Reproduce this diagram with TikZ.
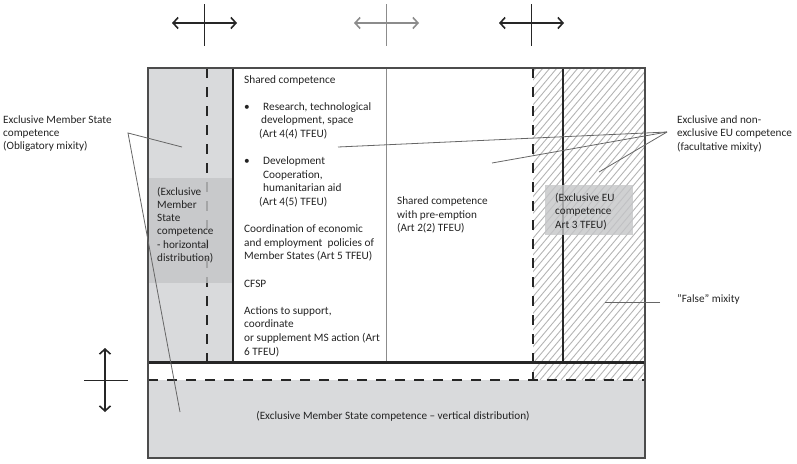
\documentclass[tikz,border=0pt]{standalone}
\usepackage{fontspec}
\setmainfont{Carlito}
\usetikzlibrary{arrows.meta}
\definecolor{colgrey}{RGB}{217,218,220}
\definecolor{boxgrey}{RGB}{196,197,199}
\definecolor{inkgrey}{RGB}{35,35,35}
\definecolor{hatchgrey}{RGB}{180,180,180}

\begin{document}
\begin{tikzpicture}[x=1pt,y=-1pt,
  txt/.style={font=\fontsize{11.2}{13.3}\selectfont,text=inkgrey,inner sep=0pt,align=left},
  heavy/.style={line width=2.6pt,draw=black!85},
  dashline/.style={line width=2.4pt,draw=black!85,dash pattern=on 10pt off 9pt},
  pointer/.style={line width=0.8pt,draw=black!60},
  hatch/.style={line width=0.9pt,draw=hatchgrey},
  shade/.style={fill=boxgrey,fill opacity=0.8,inner sep=0pt,anchor=north west},
  twoway/.style={{Straight Barb[length=5pt,width=11pt]}-{Straight Barb[length=5pt,width=11pt]},line width=1.6pt}]
\useasboundingbox (0,0) rectangle (797,463);

% frame corners
\coordinate (NW) at (148,68);
\coordinate (SE) at (645,458);

% grey and hatched regions
\fill[colgrey] (148,68) rectangle (233,362);
\fill[colgrey] (148,380) rectangle (645,458);
\begin{scope}
  \clip (533,68) rectangle (645,380);
  \foreach \x in {260,267,...,650}
    \draw[hatch] (\x,380) -- ++(262,-312);
\end{scope}

% column and row borders
\draw[line width=1pt,draw=black!45] (386,68) -- (386,362);
\draw[heavy] (233,68) -- (233,362);
\draw[heavy] (563,68) -- (563,362);
\draw[heavy,line width=3pt] (148,362) -- (645,362);
\draw[dashline] (207,68) -- (207,362);
\draw[dashline] (533,68) -- (533,380);
\draw[dashline] (148,380) -- (645,380);

% boxes
\node[shade,minimum width=84pt,minimum height=105pt] (hbox) at (148,178) {};
\node[shade,minimum width=88pt,minimum height=50pt] (eubox) at (545,185) {};

\draw[line width=1.3pt,draw=black!70] (NW) rectangle (SE);

% texts
\node[txt,anchor=west] (hboxtext) at (157,225) {(Exclusive\\Member\\State\\competence\\- horizontal\\distribution)};
\node[txt,anchor=west] (eutext) at (555,211.5) {(Exclusive EU\\competence\\Art 3 TFEU)};
\node[txt,anchor=west,font=\fontsize{11.3}{13.6}\selectfont] (shared) at (244,216) {Shared competence\\[13.6pt]
\makebox[19pt][l]{\textbullet}Research, technological\\
\hspace*{17pt}development, space\\
\hspace*{15pt}(Art 4(4) TFEU)\\[13.6pt]
\makebox[19pt][l]{\textbullet}Development\\
\hspace*{19pt}Cooperation,\\
\hspace*{19pt}humanitarian aid\\
\hspace*{15pt}(Art 4(5) TFEU)\\[13.6pt]
Coordination of economic\\
and employment\ \ policies of\\
Member States (Art 5 TFEU)\\[13.6pt]
CFSP\\[13.6pt]
Actions to support,\\
coordinate\\
or supplement MS action (Art\\
6 TFEU)};
\node[txt,anchor=west] (preempt) at (397,215) {Shared competence\\with pre-emption\\(Art 2(2) TFEU)};
\node[txt] (vertical) at (393,416) {(Exclusive Member State competence -- vertical distribution)};

\node[txt,anchor=west] (oblnote) at (3,133.5) {Exclusive Member State\\competence\\(Obligatory mixity)};
\node[txt,anchor=west] (facnote) at (677,134) {Exclusive and non-\\exclusive EU competence\\(facultative mixity)};
\node[txt,anchor=west] (falsenote) at (677,299) {”False” mixity};

% pointers
\coordinate (oblhub) at (128,133);
\coordinate (oblA) at (182,147);
\coordinate (oblB) at (180,412);
\draw[pointer] (oblA) -- (oblhub) -- (oblB);

\coordinate (fachub) at (667,132);
\coordinate (facA) at (338,147);
\coordinate (facB) at (492,163);
\coordinate (facC) at (599,172);
\foreach \t in {facA,facB,facC}
  \draw[pointer] (fachub) -- (\t);

\coordinate (falsehub) at (660,302);
\coordinate (falsetip) at (605,302);
\draw[pointer] (falsehub) -- (falsetip);

% movement crosses
\coordinate (movL) at (204,23);
\coordinate (movM) at (386,23);
\coordinate (movR) at (531,23);
\foreach \c/\col in {movL/black!85,movM/black!45,movR/black!85}{
  \draw[twoway,draw=\col] (\c) +(-32,0) -- +(33,0);
  \draw[line width=0.9pt,draw=\col] (\c) +(0,-19) -- +(0,23);
}
\coordinate (movV) at (105,380);
\draw[twoway,draw=black!85] (movV) +(0,-32) -- +(0,32);
\draw[line width=0.9pt,draw=black!85] (movV) +(-21,0) -- +(23,0);
\end{tikzpicture}
\end{document}
